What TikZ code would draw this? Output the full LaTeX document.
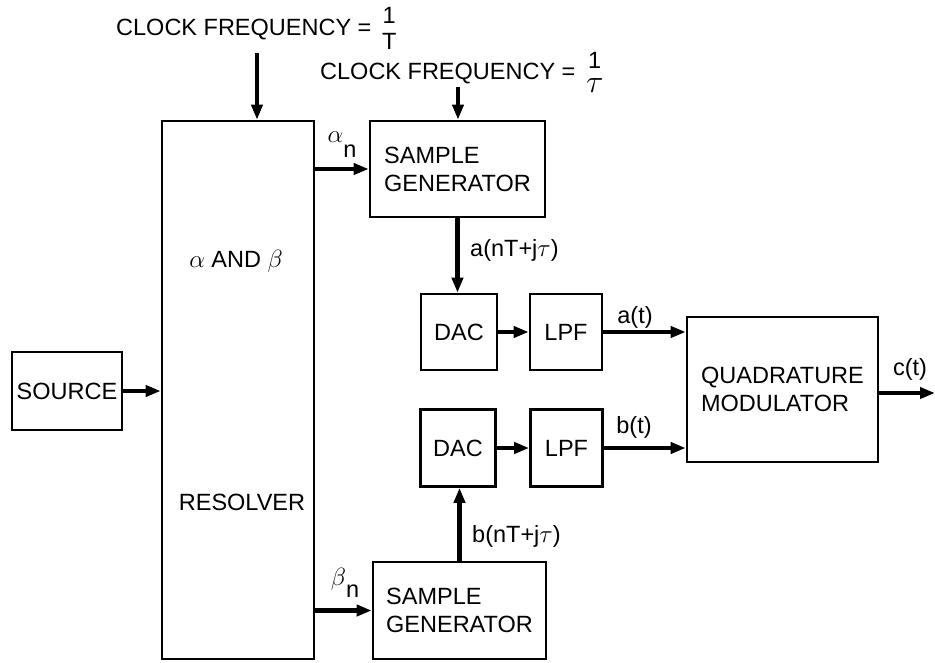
\documentclass[tikz,border=0pt]{standalone}
\usepackage{fontspec}
\setmainfont{Liberation Sans}
\usetikzlibrary{arrows.meta}

\newcommand{\diagfont}{\fontsize{23.5}{28}\selectfont}
\newcommand{\stk}[2]{\hspace{4pt}\(\vcenter{\hbox{\shortstack{#1\\[7pt]#2}}}\)}

\begin{document}
\begin{tikzpicture}[x=1pt, y=-1pt,
    blk/.style={draw, line width=2.6pt, inner sep=0pt, align=left, font=\diagfont},
    lbl/.style={inner sep=0pt, font=\diagfont},
    sig/.style={-{Triangle[length=15pt,width=11pt]}, line width=4.5pt}]

    % ====== Frame ======
    \useasboundingbox (0,0) rectangle (935,662);

    % ====== Blocks ======
    \node[blk, minimum width=110, minimum height=78] (src) at (67,391) {SOURCE};
    \node[blk, minimum width=152, minimum height=538] (res) at (238,390) {};
    \node[blk, minimum width=175, minimum height=96] (sgA) at (457.5,169) {SAMPLE\\GENERATOR};
    \node[blk, minimum width=173, minimum height=97] (sgB) at (459.5,610.5) {SAMPLE\\GENERATOR};
    \node[blk, minimum width=76, minimum height=76] (dacA) at (459,332) {DAC};
    \node[blk, minimum width=72, minimum height=76] (lpfA) at (566,332) {LPF};
    \node[blk, minimum width=75, minimum height=77] (dacB) at (458,448) {DAC};
    \node[blk, minimum width=72, minimum height=77] (lpfB) at (566.5,448) {LPF};
    \node[blk, minimum width=191, minimum height=145] (qm) at (782.5,389.5) {QUADRATURE\\MODULATOR};

    % resolver texts
    \node[lbl, anchor=base] (resTop) at (236,267) {$\alpha$ AND $\beta$};
    \node[lbl, anchor=base] (resBot) at (242,510) {RESOLVER};

    % ====== Clocks ======
    \node[lbl, anchor=base west] (clkA) at (116,35) {CLOCK FREQUENCY = \stk{1}{T}};
    \node[lbl, anchor=base west] (clkB) at (320,79) {CLOCK FREQUENCY = \stk{1}{\scalebox{1.3}{$\tau$}}};
    \coordinate (clkAin) at (257,53);
    \coordinate (clkBin) at (458,87);
    \coordinate (out) at (935,393);

    % ====== Signals ======
    \draw[sig] (clkAin) -- (clkAin |- res.north);
    \draw[sig] (clkBin) -- (clkBin |- sgA.north);
    \draw[sig] (src.east) -- (src.east -| res.west);
    \draw[sig] (res.east |- sgA.west) -- (sgA.west);
    \draw[sig] (res.east |- sgB.west) -- (sgB.west);
    \draw[sig] (sgA.south) -- (sgA.south |- dacA.north);
    \draw[sig] (sgB.north) -- (sgB.north |- dacB.south);
    \draw[sig] (dacA.east) -- (lpfA.west);
    \draw[sig] (dacB.east) -- (lpfB.west);
    \draw[sig] (lpfA.east) -- (lpfA.east -| qm.west);
    \draw[sig] (lpfB.east) -- (lpfB.east -| qm.west);
    \draw[sig] (qm.east |- out) -- (out);

    % ====== Signal names ======
    \node[lbl, anchor=base] (alphaN) at (342,157) {\raisebox{15pt}{$\alpha$}n};
    \node[lbl, anchor=base] (betaN) at (345,597) {\raisebox{12pt}{$\beta$}n};
    \node[lbl, anchor=base west] (aSmp) at (470,256) {a(nT+j$\tau$)};
    \node[lbl, anchor=base west] (bSmp) at (472,542) {b(nT+j$\tau$)};
    \node[lbl, anchor=base] (aOut) at (635,323) {a(t)};
    \node[lbl, anchor=base] (bOut) at (634,433) {b(t)};
    \node[lbl, anchor=base] (cOut) at (910,375) {c(t)};

\end{tikzpicture}
\end{document}
